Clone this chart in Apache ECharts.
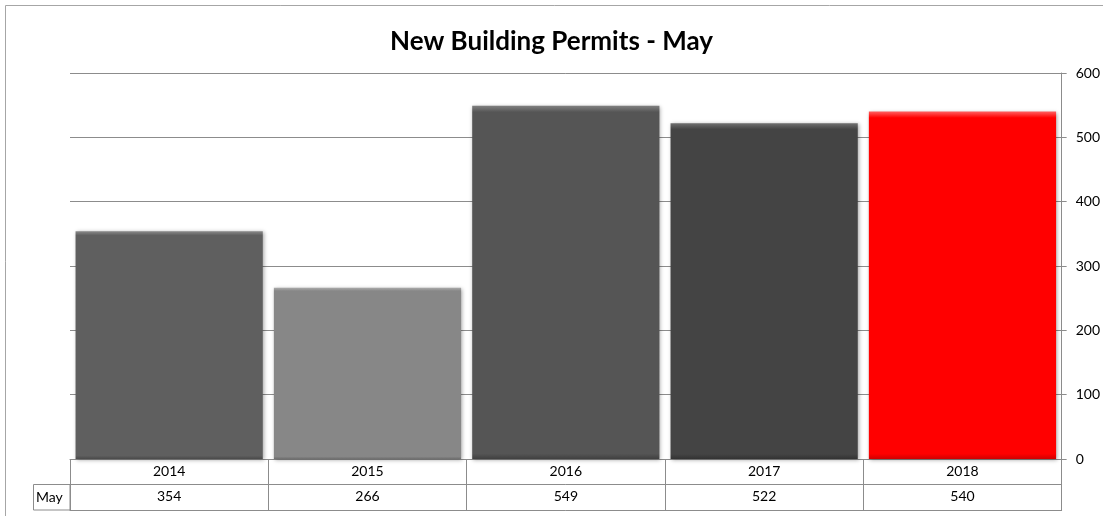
<!DOCTYPE html>
<html>
<head>
<meta charset="utf-8">
<script src="https://cdn.jsdelivr.net/npm/echarts@6/dist/echarts.min.js"></script>
<style>
html,body{margin:0;padding:0;background:#fff;}
#chart{width:1103px;height:516px;}
</style>
</head>
<body>
<div id="chart"></div>
<script>
const titleText = 'New Building Permits - May';
const seriesName = 'May';
const years = ['2014', '2015', '2016', '2017', '2018'];
const permits = [354, 266, 549, 522, 540];
const yTicks = [0, 100, 200, 300, 400, 500, 600];

const barColors = ['#5f5f5f', '#878787', '#555555', '#444444', '#ff0000'];
const lightColors = ['#8a8a8a', '#aaaaaa', '#808080', '#707070', '#ff6060'];
const darkColors = ['#4a4a4a', '#6e6e6e', '#404040', '#333333', '#d00000'];

const FONT = 'Lato, "Liberation Sans", sans-serif';
const GRAY = '#8c8c8c';

const chart = echarts.init(document.getElementById('chart'), null, {renderer: 'canvas'});

const barData = permits.map((v, i) => ({
  value: v,
  itemStyle: {
    color: new echarts.graphic.LinearGradient(0, 0, 0, 1, [
      {offset: 0, color: lightColors[i]},
      {offset: 0.018, color: barColors[i]},
      {offset: 0.985, color: barColors[i]},
      {offset: 1, color: darkColors[i]}
    ])
  }
}));

chart.setOption({
  animation: false,
  backgroundColor: '#ffffff',
  title: {
    text: titleText,
    left: 'center',
    top: 24,
    textStyle: {fontFamily: FONT, fontWeight: 'bold', fontSize: 26, color: '#000'}
  },
  grid: {left: 70, right: 41, top: 73, bottom: 57},
  xAxis: [
    {
      type: 'category',
      data: years,
      position: 'bottom',
      axisLine: {show: true, lineStyle: {color: GRAY, width: 1}},
      axisTick: {show: true, interval: 0, length: 51, lineStyle: {color: GRAY}},
      axisLabel: {margin: 5, fontFamily: FONT, fontSize: 14, color: '#000', interval: 0}
    },
    {
      type: 'category',
      data: permits.map(String),
      position: 'bottom',
      offset: 25,
      axisLine: {show: true, lineStyle: {color: GRAY, width: 1}},
      axisTick: {show: false},
      axisLabel: {margin: 5, fontFamily: FONT, fontSize: 14, color: '#000', interval: 0}
    },
    {
      type: 'category',
      data: years,
      position: 'bottom',
      offset: 51,
      axisLine: {show: true, lineStyle: {color: GRAY, width: 1}},
      axisTick: {show: false},
      axisLabel: {show: false}
    }
  ],
  yAxis: {
    type: 'value',
    position: 'right',
    min: yTicks[0],
    max: yTicks[yTicks.length - 1],
    interval: yTicks[1] - yTicks[0],
    axisLine: {show: true, lineStyle: {color: GRAY, width: 1}},
    axisTick: {show: true, length: 5, lineStyle: {color: GRAY}},
    axisLabel: {margin: 14, fontFamily: FONT, fontSize: 14, color: '#000'},
    splitLine: {show: true, lineStyle: {color: GRAY, width: 1}}
  },
  series: [{
    type: 'bar',
    name: seriesName,
    xAxisIndex: 0,
    data: barData,
    barCategoryGap: '5.6%',
    itemStyle: {
      shadowColor: 'rgba(0,0,0,0.35)',
      shadowBlur: 4,
      shadowOffsetX: 1,
      shadowOffsetY: 1
    }
  }],
  graphic: [
    {
      type: 'rect',
      shape: {x: 5.5, y: 5.5, width: 1200, height: 600},
      style: {fill: 'none', stroke: '#a6a6a6', lineWidth: 1},
      silent: true, z: 0
    },
    {
      type: 'rect',
      shape: {x: 33.5, y: 484.5, width: 36.5, height: 25.5},
      style: {fill: 'none', stroke: GRAY, lineWidth: 1},
      silent: true
    },
    {
      type: 'text',
      x: 36, y: 497,
      style: {text: seriesName, fontFamily: FONT, fontSize: 14, fill: '#000', verticalAlign: 'middle'},
      silent: true
    }
  ]
});
</script>
</body>
</html>
